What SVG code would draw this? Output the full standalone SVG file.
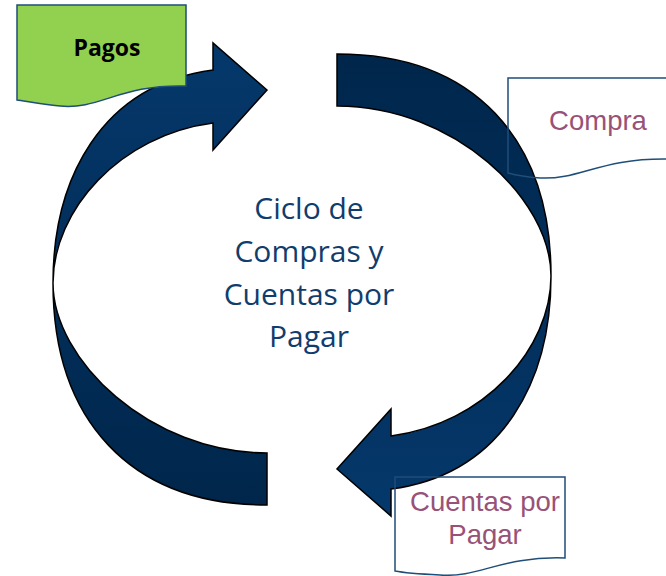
<svg xmlns="http://www.w3.org/2000/svg" xmlns:xlink="http://www.w3.org/1999/xlink" width="666" height="576" viewBox="0 0 666 576">
  <defs>
    <linearGradient id="navy" gradientUnits="userSpaceOnUse" x1="0" y1="43" x2="0" y2="505">
      <stop offset="0" stop-color="#05386B"/>
      <stop offset="1" stop-color="#00264B"/>
    </linearGradient>
    <path id="arrowL" d="M213,70 L213,43 L267,90 L213,150 L213,123 C120,135 53,210 53,283 C53,360 150,453 267,453 L267,505 C130,505 53,420 53,283 C53,180 100,85 213,70 Z"/>
  </defs>
  <style>
    .arrow { fill: url(#navy); stroke: #000000; stroke-width: 1.5; stroke-linejoin: miter; }
    .doc { stroke: #1F4E79; stroke-width: 1.5; }
    .label { font-family: "Liberation Sans", Arial, sans-serif; fill: #985277; text-anchor: middle; }
    .center { font-family: "Open Sans", "Liberation Sans", sans-serif; font-size: 30px; fill: #103D6E; text-anchor: middle; }
  </style>
  <rect width="666" height="576" fill="#ffffff"/>

  <g id="connectors">
    <use xlink:href="#arrowL" href="#arrowL" class="arrow"/>
    <use xlink:href="#arrowL" href="#arrowL" class="arrow" transform="rotate(180 302 279.5)"/>
  </g>

  <g id="pagos">
    <path class="doc" fill="#92D050" d="M17,5 H186 V86 C120,84 100,110 60,106 C40,104 25,101 17,100 Z"/>
    <text x="107" y="56" font-family="'Open Sans', 'Liberation Sans', sans-serif" font-weight="bold" font-size="23" fill="#000000" text-anchor="middle">Pagos</text>
  </g>

  <g id="compra">
    <path class="doc" fill="none" d="M508,78 H668 V159 C600,158 580,180 540,178 C525,177 515,175 508,173 Z"/>
    <text class="label" x="598" y="130" font-size="27.5">Compra</text>
  </g>

  <g id="cuentas">
    <path class="doc" fill="none" d="M395,477 H565 V558 C500,556 480,578 440,575 C420,574 405,573 395,571 Z"/>
    <text class="label" x="485" y="511" font-size="27.5">Cuentas por</text>
    <text class="label" x="485" y="544" font-size="27.5">Pagar</text>
  </g>

  <g id="ciclo">
    <text class="center" x="309" y="219">Ciclo de</text>
    <text class="center" x="309" y="262">Compras y</text>
    <text class="center" x="309" y="305">Cuentas por</text>
    <text class="center" x="309" y="347">Pagar</text>
  </g>
</svg>
